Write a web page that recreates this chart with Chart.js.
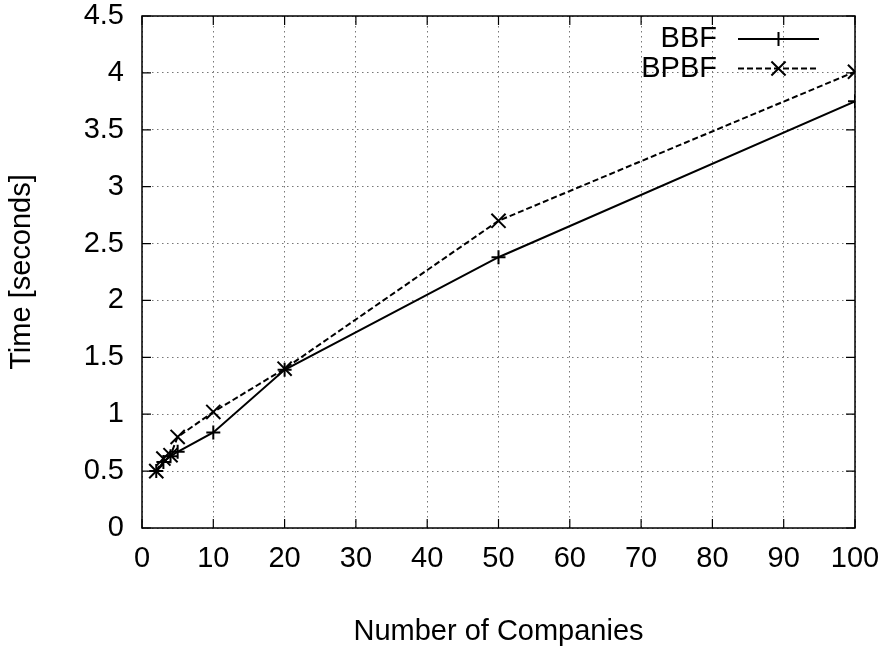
<!DOCTYPE html>
<html>
<head>
<meta charset="utf-8">
<script src="https://cdn.jsdelivr.net/npm/chart.js@4.4.1/dist/chart.umd.min.js"></script>
<style>
  html, body { margin: 0; padding: 0; background: #fff; }
  #wrap { width: 883px; height: 646px; }
</style>
</head>
<body>
<div id="wrap"><canvas id="c" width="883" height="646"></canvas></div>
<script>
// Number of companies on the x axis
const companies = [2, 3, 4, 5, 10, 20, 50, 100];
// Running time in seconds for each algorithm
const bbfTimes = [0.50, 0.58, 0.63, 0.67, 0.84, 1.39, 2.38, 3.75];
const bpbfTimes = [0.50, 0.61, 0.64, 0.80, 1.02, 1.40, 2.70, 4.01];
const seriesNames = ['BBF', 'BPBF'];
// Axis tick values
const xTickValues = [0, 10, 20, 30, 40, 50, 60, 70, 80, 90, 100];
const yTickValues = [0, 0.5, 1, 1.5, 2, 2.5, 3, 3.5, 4, 4.5];

const FONT = 'Liberation Sans, Arial, Helvetica, sans-serif';
const FONT_SIZE = 29;

const toPoints = (xs, ys) => xs.map((x, i) => ({ x: x, y: ys[i] }));

// Frame, inward tick marks on all four sides, and a gnuplot-style key
const framePlugin = {
  id: 'frame',
  afterDraw(chart) {
    const { ctx, chartArea: a, scales } = chart;
    ctx.save();
    ctx.strokeStyle = '#000';
    ctx.lineWidth = 1.5;
    ctx.setLineDash([]);
    ctx.strokeRect(a.left, a.top, a.right - a.left, a.bottom - a.top);
    const tl = 9;
    ctx.lineWidth = 1.2;
    ctx.beginPath();
    xTickValues.forEach(v => {
      const px = scales.x.getPixelForValue(v);
      ctx.moveTo(px, a.bottom); ctx.lineTo(px, a.bottom - tl);
      ctx.moveTo(px, a.top); ctx.lineTo(px, a.top + tl);
    });
    yTickValues.forEach(v => {
      const py = scales.y.getPixelForValue(v);
      ctx.moveTo(a.left, py); ctx.lineTo(a.left + tl, py);
      ctx.moveTo(a.right, py); ctx.lineTo(a.right - tl, py);
    });
    ctx.stroke();

    // key
    ctx.font = FONT_SIZE + 'px ' + FONT;
    ctx.textAlign = 'right';
    ctx.textBaseline = 'middle';
    chart.data.datasets.forEach((ds, i) => {
      const y = a.top + 23 + i * 29.5;
      const textRight = a.right - 138;
      const x1 = a.right - 117, x2 = a.right - 36;
      ctx.fillStyle = '#000';
      ctx.fillText(ds.label, textRight, y);
      ctx.strokeStyle = ds.borderColor;
      ctx.lineWidth = ds.borderWidth;
      ctx.setLineDash(ds.borderDash || []);
      ctx.beginPath();
      ctx.moveTo(x1, y); ctx.lineTo(x2, y);
      ctx.stroke();
      ctx.setLineDash([]);
      Chart.helpers.drawPoint(ctx, {
        pointStyle: ds.pointStyle,
        radius: ds.pointRadius,
        rotation: 0,
        borderWidth: ds.pointBorderWidth
      }, (x1 + x2) / 2, y);
    });
    ctx.restore();
  }
};

new Chart(document.getElementById('c'), {
  type: 'line',
  data: {
    datasets: [
      {
        label: seriesNames[0],
        data: toPoints(companies, bbfTimes),
        borderColor: '#000',
        backgroundColor: '#000',
        borderWidth: 2,
        pointStyle: 'cross',
        pointRadius: 7,
        pointBorderWidth: 2,
        pointBorderColor: '#000',
        tension: 0
      },
      {
        label: seriesNames[1],
        data: toPoints(companies, bpbfTimes),
        borderColor: '#000',
        backgroundColor: '#000',
        borderWidth: 2,
        borderDash: [6, 3],
        pointStyle: 'crossRot',
        pointRadius: 10,
        pointBorderWidth: 2,
        pointBorderColor: '#000',
        tension: 0
      }
    ]
  },
  options: {
    responsive: false,
    animation: false,
    devicePixelRatio: 1,
    layout: { padding: { left: 0, top: 16, right: 28, bottom: 0 } },
    plugins: {
      legend: { display: false },
      tooltip: { enabled: false }
    },
    scales: {
      x: {
        type: 'linear',
        min: 0, max: 100,
        afterBuildTicks: s => { s.ticks = xTickValues.map(v => ({ value: v })); },
        afterFit: s => {
          s.height = 118;
          s.paddingLeft = 0; s.paddingRight = 0;
        },
        grid: { color: '#777', lineWidth: 1, drawTicks: false },
        border: { display: false, dash: [1.5, 3.5] },
        ticks: {
          color: '#000', padding: 14,
          font: { family: FONT, size: FONT_SIZE },
          callback: v => String(v)
        },
        title: {
          display: true, text: 'Number of Companies', color: '#000',
          font: { family: FONT, size: FONT_SIZE },
          padding: { top: 0, bottom: -3 }
        }
      },
      y: {
        type: 'linear',
        min: 0, max: 4.5,
        afterBuildTicks: s => { s.ticks = yTickValues.map(v => ({ value: v })); },
        afterFit: s => {
          s.width = 142;
          s.paddingTop = 0; s.paddingBottom = 0;
        },
        grid: { color: '#777', lineWidth: 1, drawTicks: false },
        border: { display: false, dash: [1.5, 3.5] },
        ticks: {
          color: '#000', padding: 18,
          font: { family: FONT, size: FONT_SIZE },
          callback: v => String(v)
        },
        title: {
          display: true, text: 'Time [seconds]', color: '#000',
          font: { family: FONT, size: FONT_SIZE },
          padding: { top: 5, bottom: 0 }
        }
      }
    }
  },
  plugins: [framePlugin]
});
</script>
</body>
</html>
